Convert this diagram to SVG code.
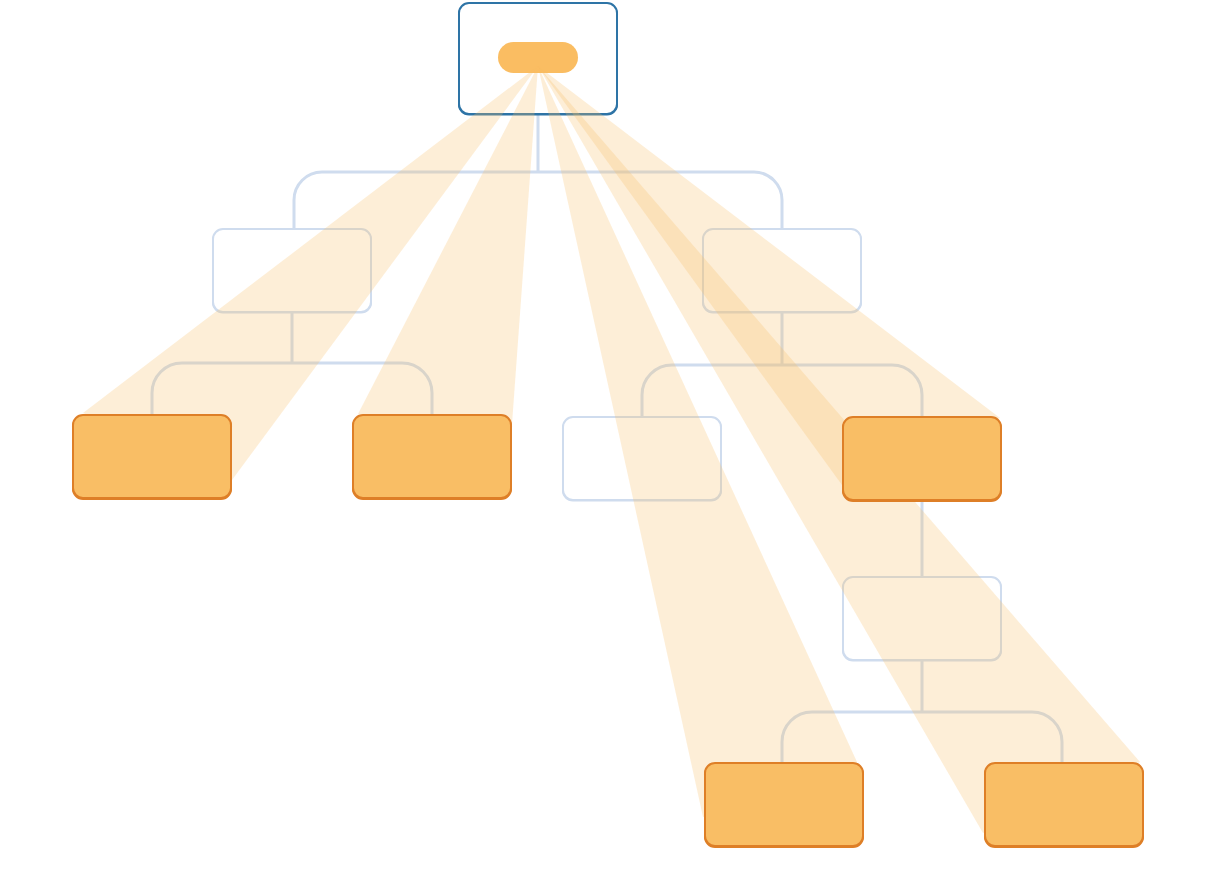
<svg xmlns="http://www.w3.org/2000/svg" width="1216" height="870" viewBox="0 0 1216 870">
<style>
.conn{fill:none;stroke:#cfdcee;stroke-width:3}
.light{fill:#ffffff;stroke:#cfdcee;stroke-width:2}
.lightsh{fill:#cfdcee}
.leaf{fill:#f9be65;stroke:#de7f27;stroke-width:2}
.leafsh{fill:#de7f27}
.rootn{fill:#ffffff;stroke:#2e74a6;stroke-width:2}
.rootsh{fill:#2e74a6}
.beam{fill:#f9be66;fill-opacity:0.26}
</style>
<rect width="1216" height="870" fill="#ffffff"/>
<g id="connectors">
<path class="conn" d="M538,115 V172 M294,228 V200 A28,28 0 0 1 322,172 H754 A28,28 0 0 1 782,200 V228"/>
<path class="conn" d="M292,313 V363 M152,414 V393 A30,30 0 0 1 182,363 H402 A30,30 0 0 1 432,393 V414"/>
<path class="conn" d="M782,313 V365 M642,416 V395 A30,30 0 0 1 672,365 H892 A30,30 0 0 1 922,395 V416"/>
<path class="conn" d="M922,501 V576"/>
<path class="conn" d="M922,661 V712 M782,762 V742 A30,30 0 0 1 812,712 H1032 A30,30 0 0 1 1062,742 V762"/>
</g>
<g id="n-root">
<rect class="rootsh" x="458" y="3.5" width="160" height="112" rx="11"/>
<rect class="rootn" x="459" y="3" width="158" height="111" rx="10"/>
<rect x="498" y="42" width="80" height="31" rx="15.5" fill="#fabd62"/>
</g>
<g id="n-l1-left">
<rect class="lightsh" x="212" y="229.5" width="160" height="84" rx="11"/>
<rect class="light" x="213" y="229" width="158" height="83" rx="10"/>
</g>
<g id="n-l1-right">
<rect class="lightsh" x="702" y="229.5" width="160" height="84" rx="11"/>
<rect class="light" x="703" y="229" width="158" height="83" rx="10"/>
</g>
<g id="n-mid">
<rect class="lightsh" x="562" y="417.5" width="160" height="84" rx="11"/>
<rect class="light" x="563" y="417" width="158" height="83" rx="10"/>
</g>
<g id="n-l3">
<rect class="lightsh" x="842" y="577.5" width="160" height="84" rx="11"/>
<rect class="light" x="843" y="577" width="158" height="83" rx="10"/>
</g>
<g id="beams">
<polygon class="beam" points="538,66 83,413 232,480"/>
<polygon class="beam" points="538,66 358,414 512,424"/>
<polygon class="beam" points="538,66 703,817 857,762"/>
<polygon class="beam" points="538,66 983,833 1140,762"/>
<polygon class="beam" points="538,66 842,485 1000,418"/>
</g>
<g id="leaf-1">
<rect class="leafsh" x="72" y="415.5" width="160" height="84.5" rx="11"/>
<rect class="leaf" x="73" y="415" width="158" height="83" rx="10"/>
</g>
<g id="leaf-2">
<rect class="leafsh" x="352" y="415.5" width="160" height="84.5" rx="11"/>
<rect class="leaf" x="353" y="415" width="158" height="83" rx="10"/>
</g>
<g id="leaf-3">
<rect class="leafsh" x="842" y="417.5" width="160" height="84.5" rx="11"/>
<rect class="leaf" x="843" y="417" width="158" height="83" rx="10"/>
</g>
<g id="leaf-4">
<rect class="leafsh" x="704" y="763.5" width="160" height="84.5" rx="11"/>
<rect class="leaf" x="705" y="763" width="158" height="83" rx="10"/>
</g>
<g id="leaf-5">
<rect class="leafsh" x="984" y="763.5" width="160" height="84.5" rx="11"/>
<rect class="leaf" x="985" y="763" width="158" height="83" rx="10"/>
</g>
</svg>
